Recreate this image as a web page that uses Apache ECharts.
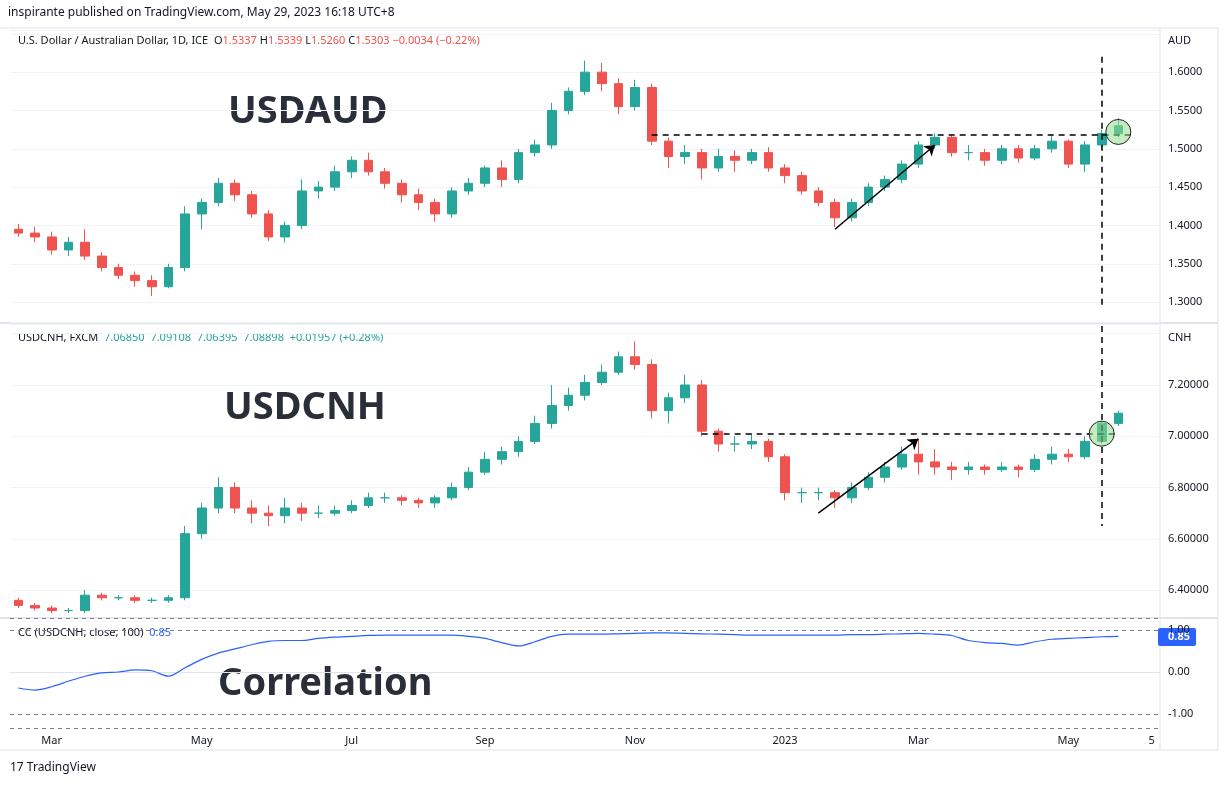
<!DOCTYPE html>
<html><head><meta charset="utf-8">
<script src="https://cdn.jsdelivr.net/npm/echarts@6/dist/echarts.min.js"></script>
<style>html,body{margin:0;padding:0;background:#fff}#c{width:1228px;height:787px}</style>
</head><body><div id="c"></div>
<script>
// Weekly candles, week starting Mondays from 2022-02-14
const weekStart = '2022-02-14';
const weekCount = 69;
// [open, close, low, high]
const audOHLC = [
[1.395,1.390,1.385,1.402],[1.390,1.385,1.378,1.398],[1.385,1.368,1.362,1.392],[1.368,1.378,1.360,1.385],
[1.378,1.360,1.355,1.395],[1.360,1.345,1.340,1.365],[1.345,1.335,1.330,1.350],[1.335,1.328,1.320,1.340],
[1.328,1.320,1.308,1.335],[1.320,1.345,1.318,1.350],[1.345,1.415,1.340,1.425],[1.415,1.430,1.395,1.435],
[1.430,1.455,1.425,1.462],[1.455,1.440,1.432,1.460],[1.440,1.415,1.410,1.445],[1.415,1.385,1.380,1.420],
[1.385,1.400,1.378,1.405],[1.400,1.445,1.395,1.460],[1.445,1.450,1.435,1.458],[1.450,1.470,1.445,1.478],
[1.470,1.485,1.462,1.490],[1.485,1.470,1.465,1.495],[1.470,1.455,1.448,1.475],[1.455,1.440,1.430,1.460],
[1.440,1.430,1.420,1.448],[1.430,1.415,1.405,1.435],[1.415,1.445,1.410,1.450],[1.445,1.455,1.440,1.462],
[1.455,1.475,1.450,1.478],[1.475,1.460,1.450,1.485],[1.460,1.495,1.455,1.500],[1.495,1.505,1.490,1.512],
[1.505,1.550,1.500,1.560],[1.550,1.575,1.545,1.580],[1.575,1.600,1.570,1.615],[1.600,1.585,1.575,1.612],
[1.585,1.555,1.545,1.592],[1.555,1.580,1.550,1.590],[1.580,1.510,1.505,1.585],[1.510,1.490,1.475,1.515],
[1.490,1.495,1.480,1.505],[1.495,1.475,1.460,1.500],[1.475,1.490,1.470,1.500],[1.490,1.485,1.470,1.498],
[1.485,1.495,1.480,1.500],[1.495,1.475,1.470,1.502],[1.475,1.465,1.455,1.480],[1.465,1.445,1.440,1.470],
[1.445,1.430,1.425,1.450],[1.430,1.410,1.398,1.435],[1.410,1.430,1.405,1.435],[1.430,1.450,1.425,1.455],
[1.450,1.460,1.445,1.465],[1.460,1.480,1.455,1.485],[1.480,1.505,1.475,1.510],[1.505,1.515,1.500,1.520],
[1.515,1.495,1.490,1.518],[1.495,1.495,1.485,1.505],[1.495,1.485,1.478,1.500],[1.485,1.500,1.480,1.505],
[1.500,1.488,1.482,1.505],[1.488,1.500,1.485,1.505],[1.500,1.510,1.495,1.518],[1.510,1.480,1.475,1.512],
[1.480,1.505,1.470,1.510],[1.505,1.520,1.500,1.525],[1.520,1.530,1.515,1.540]
];
const cnhOHLC = [
[6.36,6.34,6.33,6.37],[6.34,6.33,6.32,6.35],[6.33,6.32,6.31,6.34],[6.32,6.32,6.31,6.33],
[6.32,6.38,6.31,6.40],[6.38,6.37,6.36,6.39],[6.37,6.37,6.36,6.38],[6.37,6.36,6.35,6.38],
[6.36,6.36,6.35,6.37],[6.36,6.37,6.35,6.38],[6.37,6.62,6.36,6.65],[6.62,6.72,6.60,6.74],
[6.72,6.80,6.70,6.84],[6.80,6.72,6.70,6.82],[6.72,6.70,6.66,6.75],[6.70,6.69,6.65,6.73],
[6.69,6.72,6.66,6.76],[6.72,6.70,6.67,6.74],[6.70,6.70,6.68,6.73],[6.70,6.71,6.69,6.73],
[6.71,6.73,6.70,6.75],[6.73,6.76,6.72,6.78],[6.76,6.76,6.74,6.78],[6.76,6.75,6.73,6.77],
[6.75,6.74,6.72,6.76],[6.74,6.76,6.72,6.77],[6.76,6.80,6.75,6.82],[6.80,6.86,6.79,6.88],
[6.86,6.91,6.85,6.94],[6.91,6.94,6.89,6.96],[6.94,6.98,6.92,7.00],[6.98,7.05,6.97,7.08],
[7.05,7.12,7.03,7.20],[7.12,7.16,7.10,7.19],[7.16,7.21,7.14,7.24],[7.21,7.25,7.20,7.28],
[7.25,7.31,7.24,7.33],[7.31,7.28,7.26,7.37],[7.28,7.10,7.07,7.30],[7.10,7.15,7.05,7.17],
[7.15,7.20,7.13,7.24],[7.20,7.02,7.00,7.22],[7.02,6.97,6.94,7.03],[6.97,6.97,6.94,7.00],
[6.97,6.98,6.95,7.01],[6.98,6.92,6.90,6.99],[6.92,6.78,6.75,6.93],[6.78,6.78,6.74,6.80],
[6.78,6.78,6.75,6.80],[6.78,6.76,6.72,6.79],[6.76,6.80,6.74,6.82],[6.80,6.84,6.79,6.86],
[6.84,6.88,6.82,6.90],[6.88,6.93,6.87,6.96],[6.93,6.90,6.85,6.99],[6.90,6.88,6.85,6.95],
[6.88,6.87,6.83,6.90],[6.87,6.88,6.85,6.90],[6.88,6.87,6.85,6.89],[6.87,6.88,6.86,6.90],
[6.88,6.87,6.84,6.89],[6.87,6.91,6.86,6.93],[6.91,6.93,6.89,6.96],[6.93,6.92,6.90,6.95],
[6.92,6.98,6.91,7.00],[6.98,7.05,6.97,7.06],[7.05,7.09,7.04,7.10]
];
const corr = [-0.38,-0.43,-0.35,-0.22,-0.10,-0.02,0.0,0.05,0.03,-0.10,0.10,0.30,0.45,0.55,0.65,0.73,0.75,0.75,0.80,0.83,
0.85,0.87,0.88,0.88,0.88,0.88,0.88,0.85,0.80,0.70,0.62,0.72,0.85,0.90,0.90,0.90,0.91,0.92,0.93,0.93,
0.92,0.91,0.90,0.89,0.88,0.88,0.88,0.88,0.88,0.88,0.89,0.89,0.90,0.91,0.92,0.90,0.87,0.75,0.70,0.68,
0.64,0.72,0.78,0.80,0.82,0.84,0.85];
const xTickLabels = {2:'Mar',11:'May',20:'Jul',28:'Sep',37:'Nov',46:'2023',54:'Mar',63:'May',68:'5'};
const audTicks = [1.30,1.35,1.40,1.45,1.50,1.55,1.60];
const cnhTicks = [6.4,6.6,6.8,7.0,7.2];
const corrTicks = [-1,0,1];

const cats = [];
const d0 = new Date(weekStart + 'T00:00:00Z');
for (let i = 0; i < weekCount; i++) { const d = new Date(d0.getTime() + i*7*86400000); cats.push(d.toISOString().slice(0,10)); }

const UP='#26a69a', DN='#ef5350', GRID='#f0f3fa', TXT='#131722', FONT='"Noto Sans", Roboto, sans-serif';
const chart = echarts.init(document.getElementById('c'));
const L=10, R=68;
const grids=[{left:L,right:R,top:30,height:292},{left:L,right:R,top:324,height:294},{left:L,right:R,top:618,height:110}];
function xAx(i,show){return {type:'category',gridIndex:i,data:cats,boundaryGap:true,
  axisLine:{show:show,lineStyle:{color:'#e0e3eb'}},axisTick:{show:false},
  splitLine:{show:false},
  axisLabel:{show:show,interval:0,color:TXT,fontSize:11,fontFamily:FONT,margin:7,
    formatter:(v,idx)=>xTickLabels[idx]||''}};}
function yAx(i,min,max,split,dec,dashed,ticks){return {type:'value',gridIndex:i,position:'right',min:min,max:max,splitNumber:split,
  axisLine:{show:false},axisTick:{show:false},
  axisLabel:{color:TXT,fontSize:11,fontFamily:FONT,margin:8,
    formatter:v=>ticks.some(t=>Math.abs(t-v)<1e-6)?v.toFixed(dec):''},
  splitLine:{show:true,lineStyle:{color:dashed?'#787b86':GRID,type:dashed?[4,4]:'solid',width:1}}};}
const dashBlack={color:'#000',type:[6,5],width:1.5};
const circ=(x,y)=>({coord:[x,y],symbol:'circle',symbolSize:25,itemStyle:{color:'rgba(150,220,140,0.55)',borderColor:'#222',borderWidth:1},label:{show:false}});
chart.setOption({
  backgroundColor:'#fff',animation:false,
  grid:grids,
  xAxis:[xAx(0,false),xAx(1,false),xAx(2,true)],
  yAxis:[yAx(0,1.274,1.655,7,4,false,audTicks),yAx(1,6.291,7.438,6,5,false,cnhTicks),yAx(2,-1.333,1.286,3,2,true,corrTicks)],
  series:[
    {type:'candlestick',xAxisIndex:0,yAxisIndex:0,data:audOHLC,barWidth:'55%',
     itemStyle:{color:UP,color0:DN,borderColor:UP,borderColor0:DN},
     markLine:{silent:true,symbol:'none',label:{show:false},data:[
       [{coord:[38,1.518],lineStyle:dashBlack},{coord:[67,1.518]}],
       [{coord:[65,1.62],lineStyle:dashBlack},{coord:[65,1.29]}],
       [{coord:[49,1.395],symbol:'none',lineStyle:{color:'#000',type:'solid',width:1.5}},{coord:[55,1.505],symbol:'arrow',symbolSize:10}]
     ]},
     markPoint:{silent:true,data:[circ(66,1.522)]}},
    {type:'candlestick',xAxisIndex:1,yAxisIndex:1,data:cnhOHLC,barWidth:'55%',
     itemStyle:{color:UP,color0:DN,borderColor:UP,borderColor0:DN},
     markLine:{silent:true,symbol:'none',label:{show:false},data:[
       [{coord:[41,7.01],lineStyle:dashBlack},{coord:[66,7.01]}],
       [{coord:[65,7.43],lineStyle:dashBlack},{coord:[65,6.65]}],
       [{coord:[48,6.70],symbol:'none',lineStyle:{color:'#000',type:'solid',width:1.5}},{coord:[54,6.99],symbol:'arrow',symbolSize:10}]
     ]},
     markPoint:{silent:true,data:[circ(65,7.01)]}},
    {type:'line',xAxisIndex:2,yAxisIndex:2,data:corr,showSymbol:false,smooth:0.3,lineStyle:{color:'#2962ff',width:1.2}}
  ],
  graphic:[
    {type:'line',shape:{x1:0,y1:28,x2:1218,y2:28},style:{stroke:'#e0e3eb'}},
    {type:'line',shape:{x1:1160,y1:28,x2:1160,y2:750},style:{stroke:'#e0e3eb'}},
    {type:'line',shape:{x1:0,y1:323,x2:1218,y2:323},style:{stroke:'#e0e3eb',lineWidth:2}},
    {type:'line',shape:{x1:0,y1:618,x2:1218,y2:618},style:{stroke:'#e0e3eb',lineWidth:2}},
    {type:'line',shape:{x1:0,y1:750,x2:1218,y2:750},style:{stroke:'#e0e3eb'}},
    {type:'line',shape:{x1:1218,y1:28,x2:1218,y2:750},style:{stroke:'#e0e3eb'}},
    {type:'text',left:8,top:7,style:{text:'inspirante published on TradingView.com, May 29, 2023 16:18 UTC+8',fill:TXT,font:'12px '+FONT}},
    {type:'text',left:18,top:35,style:{text:'U.S. Dollar / Australian Dollar, 1D, ICE  O{r|1.5337} H{r|1.5339} L{r|1.5260} C{r|1.5303} {r|−0.0034 (−0.22%)}',fill:TXT,font:'11px '+FONT,rich:{r:{fill:DN,font:'11px '+FONT}}}},
    {type:'text',left:18,top:332,style:{text:'USDCNH, FXCM  {g|7.06850  7.09108  7.06395  7.08898  +0.01957 (+0.28%)}',fill:TXT,font:'11px '+FONT,rich:{g:{fill:UP,font:'11px '+FONT}}}},
    {type:'text',left:18,top:627,style:{text:'CC (USDCNH, close, 100)  {b|0.85}',fill:TXT,font:'11px '+FONT,rich:{b:{fill:'#2962ff',font:'11px '+FONT}}}},
    {type:'text',left:1168,top:35,style:{text:'AUD',fill:TXT,font:'11px '+FONT}},
    {type:'text',left:1168,top:332,style:{text:'CNH',fill:TXT,font:'11px '+FONT}},
    {type:'rect',shape:{x:1158,y:628,width:38,height:18,r:2},style:{fill:'#2962ff'}},
    {type:'text',left:1168,top:631,style:{text:'0.85',fill:'#fff',font:'bold 11px '+FONT}},
    {type:'text',left:228,top:93,style:{text:'USDAUD',fill:'#2a2e39',font:'bold 38px '+FONT}},
    {type:'text',left:224,top:389,style:{text:'USDCNH',fill:'#2a2e39',font:'bold 38px '+FONT}},
    {type:'text',left:218,top:665,style:{text:'Correlation',fill:'#2a2e39',font:'bold 38px '+FONT}},
    {type:'text',left:10,top:762,style:{text:'17 TradingView',fill:TXT,font:'12px '+FONT}}
  ]
});
</script></body></html>
